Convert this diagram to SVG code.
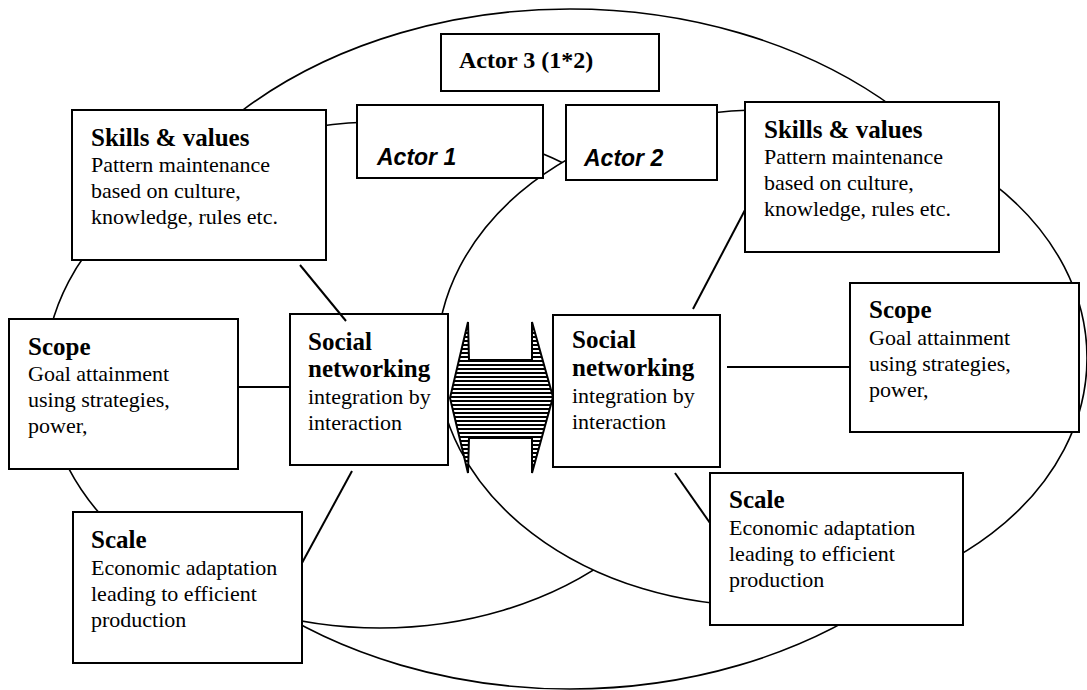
<svg xmlns="http://www.w3.org/2000/svg" width="1087" height="690" viewBox="0 0 1087 690">
<defs>
<style>
.ell{fill:#fff;stroke:#000;stroke-width:1.6}
.box{fill:#fff;stroke:#000;stroke-width:2}
.con{stroke:#000;stroke-width:2;fill:none}
.t{font-family:"Liberation Serif","Times New Roman",serif;font-weight:bold;font-size:25px;fill:#000}
.b{font-family:"Liberation Serif","Times New Roman",serif;font-size:22px;fill:#000}
.a{font-family:"Liberation Sans",Arial,sans-serif;font-weight:bold;font-style:italic;font-size:23px;fill:#000}
</style>
<pattern id="stripes" width="8" height="4" patternUnits="userSpaceOnUse">
<rect width="8" height="4" fill="#fff"/>
<rect width="8" height="2" fill="#000"/>
</pattern>
</defs>
<rect width="1087" height="690" fill="#fff"/>
<g id="ellipses">
<ellipse id="actor3-ellipse" class="ell" cx="570" cy="349" rx="460" ry="340"/>
<ellipse id="actor1-ellipse" class="ell" cx="380" cy="375" rx="335" ry="253"/>
<ellipse id="actor2-ellipse" class="ell" cx="762" cy="358" rx="325" ry="248"/>
</g>
<g id="actor3">
<rect class="box" x="441" y="34" width="218" height="57"/>
<text class="t" x="459" y="68" style="font-size:24px">Actor 3 (1*2)</text>
</g>
<g id="actor1">
<rect class="box" x="357" y="105" width="186" height="73"/>
<text class="a" x="377" y="165">Actor 1</text>
</g>
<g id="actor2">
<rect class="box" x="566" y="105" width="151" height="75"/>
<text class="a" x="584" y="166">Actor 2</text>
</g>
<g id="skills-left">
<rect class="box" x="72" y="110" width="254" height="150"/>
<text class="t" x="91" y="146">Skills &amp; values</text>
<text class="b" x="91" y="172">Pattern maintenance</text>
<text class="b" x="91" y="198">based on culture,</text>
<text class="b" x="91" y="224">knowledge, rules etc.</text>
</g>
<g id="scope-left">
<rect class="box" x="9" y="319" width="229" height="150"/>
<text class="t" x="28" y="355">Scope</text>
<text class="b" x="28" y="381">Goal attainment</text>
<text class="b" x="28" y="407">using strategies,</text>
<text class="b" x="28" y="433">power,</text>
</g>
<g id="social-left">
<rect class="box" x="290" y="314" width="158" height="151"/>
<text class="t" x="308" y="350">Social</text>
<text class="t" x="308" y="377">networking</text>
<text class="b" x="308" y="404">integration by</text>
<text class="b" x="308" y="430">interaction</text>
</g>
<g id="scale-left">
<rect class="box" x="73" y="512" width="229" height="151"/>
<text class="t" x="91" y="548">Scale</text>
<text class="b" x="91" y="575">Economic adaptation</text>
<text class="b" x="91" y="601">leading to efficient</text>
<text class="b" x="91" y="627">production</text>
</g>
<g id="skills-right">
<rect class="box" x="745" y="102" width="254" height="150"/>
<text class="t" x="764" y="138">Skills &amp; values</text>
<text class="b" x="764" y="164">Pattern maintenance</text>
<text class="b" x="764" y="190">based on culture,</text>
<text class="b" x="764" y="216">knowledge, rules etc.</text>
</g>
<g id="social-right">
<rect class="box" x="553" y="315" width="167" height="152"/>
<text class="t" x="572" y="348">Social</text>
<text class="t" x="572" y="376">networking</text>
<text class="b" x="572" y="403">integration by</text>
<text class="b" x="572" y="429">interaction</text>
</g>
<g id="scope-right">
<rect class="box" x="850" y="283" width="229" height="149"/>
<text class="t" x="869" y="318">Scope</text>
<text class="b" x="869" y="345">Goal attainment</text>
<text class="b" x="869" y="371">using strategies,</text>
<text class="b" x="869" y="397">power,</text>
</g>
<g id="scale-right">
<rect class="box" x="710" y="473" width="253" height="152"/>
<text class="t" x="729" y="508">Scale</text>
<text class="b" x="729" y="535">Economic adaptation</text>
<text class="b" x="729" y="561">leading to efficient</text>
<text class="b" x="729" y="587">production</text>
</g>
<g id="connectors">
<line class="con" x1="300" y1="265" x2="346" y2="321"/>
<line class="con" x1="238" y1="387" x2="290" y2="387"/>
<line class="con" x1="352" y1="471" x2="302" y2="563"/>
<line class="con" x1="745" y1="210" x2="693" y2="309"/>
<line class="con" x1="727" y1="367" x2="850" y2="367"/>
<line class="con" x1="675" y1="473" x2="710" y2="523"/>
</g>
<g id="exchange-arrow">
<polygon points="450,398 468,322 469,360 532,360 532,322 553,397 532,473 532,438 469,438 468,473" fill="url(#stripes)" stroke="#000" stroke-width="2" stroke-linejoin="miter"/>
</g>
</svg>
